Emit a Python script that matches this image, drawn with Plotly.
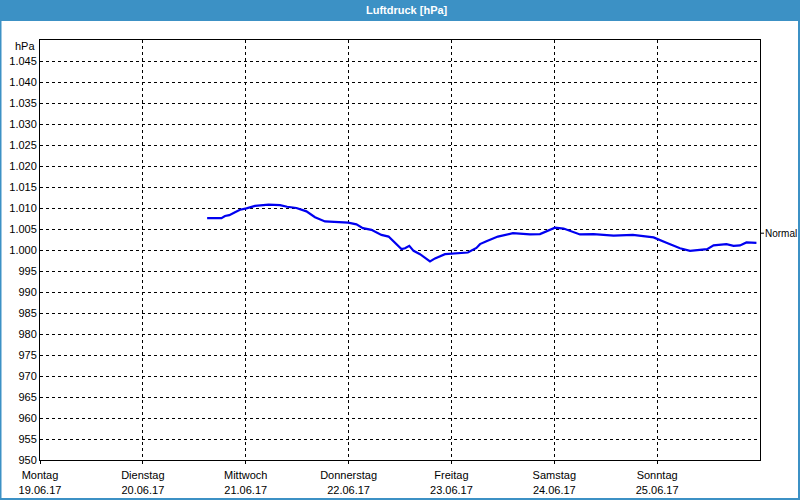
import plotly.graph_objects as go

# ---- data ----
times = [
    "2017-06-20 15:00", "2017-06-20 18:20", "2017-06-20 19:10", "2017-06-20 20:10",
    "2017-06-20 21:30", "2017-06-20 22:40", "2017-06-21 00:10", "2017-06-21 02:10",
    "2017-06-21 05:20", "2017-06-21 08:00", "2017-06-21 09:40", "2017-06-21 11:50",
    "2017-06-21 14:10", "2017-06-21 16:10", "2017-06-21 18:30", "2017-06-21 22:50",
    "2017-06-21 23:55", "2017-06-22 01:50", "2017-06-22 03:20", "2017-06-22 05:20",
    "2017-06-22 07:40", "2017-06-22 09:20", "2017-06-22 10:50", "2017-06-22 12:20",
    "2017-06-22 13:10", "2017-06-22 14:10", "2017-06-22 15:10", "2017-06-22 16:40",
    "2017-06-22 19:00", "2017-06-22 20:10", "2017-06-22 22:30", "2017-06-23 03:50",
    "2017-06-23 05:50", "2017-06-23 06:40", "2017-06-23 08:10", "2017-06-23 09:50",
    "2017-06-23 10:50", "2017-06-23 14:20", "2017-06-23 18:20", "2017-06-23 20:40",
    "2017-06-24 00:10", "2017-06-24 02:10", "2017-06-24 06:00", "2017-06-24 09:10",
    "2017-06-24 13:50", "2017-06-24 18:20", "2017-06-24 23:10", "2017-06-25 02:10",
    "2017-06-25 05:20", "2017-06-25 07:40", "2017-06-25 11:40", "2017-06-25 13:10",
    "2017-06-25 16:10", "2017-06-25 17:50", "2017-06-25 19:20", "2017-06-25 20:50",
    "2017-06-25 23:10",
]
pressure = [
    1007.6, 1007.6, 1008.1, 1008.3,
    1009.0, 1009.6, 1009.9, 1010.5,
    1010.8, 1010.7, 1010.3, 1010.0,
    1009.2, 1007.8, 1006.8, 1006.7,
    1006.5, 1006.1, 1005.2, 1004.8,
    1003.6, 1003.2, 1001.7, 1000.2,
    1000.4, 1001.0, 999.8, 999.0,
    997.3, 998.0, 999.0, 999.4,
    1000.5, 1001.4, 1002.1, 1002.9,
    1003.2, 1004.0, 1003.7, 1003.8,
    1005.3, 1005.1, 1003.7, 1003.8,
    1003.4, 1003.6, 1003.0, 1001.7,
    1000.4, 999.8, 1000.2, 1001.1,
    1001.4, 1001.0, 1001.1, 1001.8,
    1001.7,
]
normal_value = 1004.0

day_ticks = ["2017-06-19", "2017-06-20", "2017-06-21", "2017-06-22",
             "2017-06-23", "2017-06-24", "2017-06-25"]
day_names = ["Montag", "Dienstag", "Mittwoch", "Donnerstag", "Freitag", "Samstag", "Sonntag"]
day_dates = ["19.06.17", "20.06.17", "21.06.17", "22.06.17", "23.06.17", "24.06.17", "25.06.17"]

y_ticks = list(range(950, 1050, 5))
y_labels = ["950", "955", "960", "965", "970", "975", "980", "985", "990", "995",
            "1.000", "1.005", "1.010", "1.015", "1.020", "1.025", "1.030", "1.035",
            "1.040", "1.045"]

# ---- figure ----
W, H = 800, 500
L, R, T, B = 40, 40, 40, 40
pw, ph = W - L - R, H - T - B

def px_x(x):
    return (x - L) / pw

def px_y(y):
    return (H - B - y) / ph

BLUE = "#3C91C5"
FONT = "Liberation Sans, Arial, sans-serif"

fig = go.Figure()
fig.add_trace(go.Scatter(
    x=times, y=pressure, mode="lines",
    line=dict(color="#0000F0", width=2.2),
    hoverinfo="skip", showlegend=False,
))

shapes = [
    # title bar
    dict(type="rect", xref="paper", yref="paper",
         x0=px_x(0), x1=px_x(W), y0=px_y(21), y1=px_y(0),
         fillcolor=BLUE, line=dict(width=0), layer="below"),
    # outer frame
    dict(type="rect", xref="paper", yref="paper",
         x0=px_x(0.5), x1=px_x(W - 1), y0=px_y(H - 1), y1=px_y(0.5),
         fillcolor="rgba(0,0,0,0)", line=dict(color=BLUE, width=2)),
    # small tick for "Normal"
    dict(type="line", xref="paper", yref="y",
         x0=1.0, x1=px_x(764), y0=normal_value, y1=normal_value,
         line=dict(color="black", width=1)),
]

annotations = [
    dict(text="<b>Luftdruck [hPa]</b>", xref="paper", yref="paper",
         x=px_x(407), y=px_y(10), xanchor="center", yanchor="middle",
         showarrow=False, font=dict(family=FONT, size=11, color="white")),
    dict(text="hPa", xref="paper", yref="paper",
         x=px_x(37), y=px_y(46), xanchor="right", yanchor="middle",
         showarrow=False, font=dict(family=FONT, size=11, color="black")),
    dict(text="Normal", xref="paper", yref="y",
         x=px_x(763), y=normal_value, xanchor="left", yanchor="middle",
         showarrow=False, font=dict(family=FONT, size=10, color="black")),
]

fig.update_layout(
    width=W, height=H,
    margin=dict(l=L, r=R, t=T, b=B, pad=0),
    paper_bgcolor="white", plot_bgcolor="white",
    font=dict(family=FONT, size=11, color="black"),
    shapes=shapes, annotations=annotations,
    showlegend=False,
)
fig.update_xaxes(
    type="date", range=["2017-06-19", "2017-06-26"],
    tickvals=day_ticks,
    ticktext=[f"{n}<br>{d}" for n, d in zip(day_names, day_dates)],
    showgrid=True, gridcolor="black", gridwidth=1, griddash="3px,3px",
    showline=True, linecolor="black", linewidth=1, mirror=True,
    ticks="outside", ticklen=3, tickcolor="black", ticklabelstandoff=2,
    tickfont=dict(family=FONT, size=11, color="black"),
    zeroline=False, fixedrange=True, automargin=False,
)
fig.update_yaxes(
    range=[950, 1050],
    tickvals=y_ticks, ticktext=y_labels,
    showgrid=True, gridcolor="black", gridwidth=1, griddash="3px,3px",
    showline=True, linecolor="black", linewidth=1, mirror=True,
    ticks="", tickfont=dict(family=FONT, size=11, color="black"),
    zeroline=False, fixedrange=True, automargin=False,
)

fig.write_html("out.html")
